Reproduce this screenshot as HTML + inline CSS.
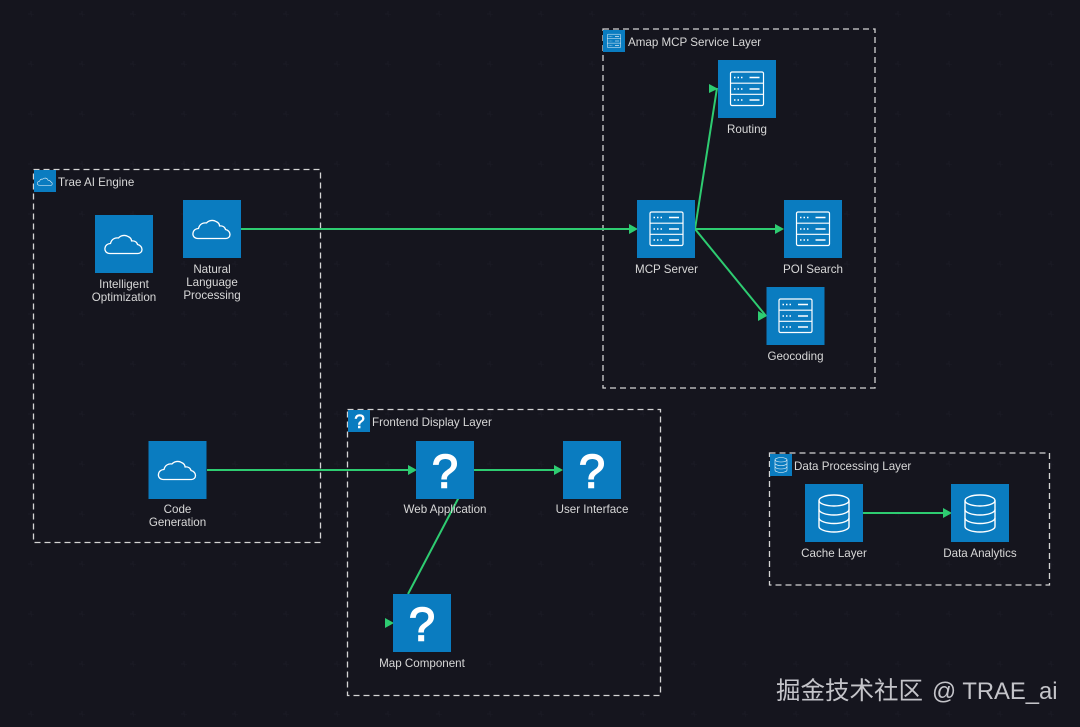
<!DOCTYPE html>
<html>
<head>
<meta charset="utf-8">
<style>
html,body{margin:0;padding:0;background:#15151e;width:1080px;height:727px;overflow:hidden}
svg{display:block}
text{font-family:"Liberation Sans",Arial,sans-serif;font-size:11.6px;fill:#d8d8d8}
.m{text-anchor:middle}
.q{font-size:47px;fill:#fff;stroke:#fff;stroke-width:1.5;text-anchor:middle}
.qs{font-size:19px;fill:#fff;stroke:#fff;stroke-width:.6;text-anchor:middle}
.g{fill:none;stroke:#d4d4d4;stroke-width:1.3;stroke-dasharray:6 4}
.n{fill:#0a7cc0}
.l{stroke:#2ecc71;stroke-width:2;fill:none}
.a{fill:#2ecc71}
text.w{font-family:"Liberation Sans","Noto Sans CJK SC",sans-serif;font-size:24.5px;fill:#c4c4c9}
text.w2{font-family:"Liberation Sans",sans-serif;font-size:23.8px;fill:#c4c4c9}
.small *{vector-effect:non-scaling-stroke;stroke-width:.9}
</style>
</head>
<body>
<svg width="1080" height="727" viewBox="0 0 1080 727" xmlns="http://www.w3.org/2000/svg">
<defs>
<pattern id="grid" x="31" y="14" width="51" height="50" patternUnits="userSpaceOnUse">
<path d="M-3 0H3M0 -3V3M48 0H54M0 47V53M51 47V53M48 50H54" stroke="#1b1b25" stroke-width="1" fill="none"/>
</pattern>
<g id="cloud" fill="none" stroke="#fff" stroke-width="1.3" stroke-linejoin="round">
<path d="M-14 9.500C-18 9.500 -19.500 6.500 -19 4C-18.500 1 -16 -0.500 -13.500 -0.500C-12.500 -5 -9 -6.500 -5.500 -6C-3.500 -8.500 1 -9.500 4 -7.500C6.500 -6.500 7.500 -4.500 7.500 -3C10.500 -3.500 13 -2 13.500 0.500C16.500 1 18 3.500 18 5.500C18 8 16 9.500 14 9.500Z"/>
</g>
<g id="server" fill="none" stroke="#fff" stroke-width="1.200">
<rect x="-16.500" y="-17" width="33" height="33.500" rx="1.500"/>
<path d="M-16.500 -5.800H16.500M-16.500 5.300H16.500"/>
<path d="M2.500 -11.500H12.500M2.500 0H12.500M2.500 11H12.500" stroke-width="1.500"/>
<path d="M-13 -11.500H-4.500M-13 0H-4.500M-13 11H-4.500" stroke-width="1.500" stroke-dasharray="1.500 2"/>
</g>
<g id="db" fill="none" stroke="#fff" stroke-width="1.400">
<ellipse cx="0" cy="-13" rx="15" ry="5.500"/>
<path d="M-15 -13V13C-15 16 -8 18.500 0 18.500C8 18.500 15 16 15 13V-13"/>
<path d="M-15 -4C-15 -1 -8 1.500 0 1.500C8 1.500 15 -1 15 -4"/>
<path d="M-15 4.500C-15 7.500 -8 10 0 10C8 10 15 7.500 15 4.500"/>
</g>
</defs>

<rect width="1080" height="727" fill="#15151e"/>
<rect width="1080" height="727" fill="url(#grid)"/>

<!-- groups -->
<rect class="g" x="33.500" y="169.500" width="287" height="373"/>
<rect class="g" x="603" y="29" width="272" height="359"/>
<rect class="g" x="347.500" y="409.500" width="313" height="286"/>
<rect class="g" x="769.500" y="453" width="280" height="132"/>

<!-- connectors -->
<path class="l" d="M241 229H632"/>
<polygon class="a" points="629,224 638,229 629,234"/>
<path class="l" d="M207 470H410"/>
<polygon class="a" points="408,465 417,470 408,475"/>
<path class="l" d="M474 470H557"/>
<polygon class="a" points="554,465 563,470 554,475"/>
<path class="l" d="M863 513H946"/>
<polygon class="a" points="943,508 952,513 943,518"/>
<path class="l" d="M695 229H778"/>
<polygon class="a" points="775,224 784,229 775,234"/>
<path class="l" d="M695 229L717 88"/>
<polygon class="a" points="709,84 718,88.700 709,93"/>
<path class="l" d="M695 229L766 316"/>
<polygon class="a" points="758,311 767,316 758,321"/>
<path class="l" d="M459 497L408 594"/>
<polygon class="a" points="385,618 394,623 385,628"/>

<!-- group icons -->
<rect class="n" x="34" y="170" width="22" height="22"/>
<use class="small" href="#cloud" transform="translate(45,181.500) scale(0.400)"/>
<text x="58" y="186">Trae AI Engine</text>

<rect class="n" x="603" y="30" width="22" height="22"/>
<use class="small" href="#server" transform="translate(614,41) scale(0.400)"/>
<text x="628" y="46">Amap MCP Service Layer</text>

<rect class="n" x="348" y="410" width="22" height="22"/>
<text class="qs" x="359.500" y="428">?</text>
<text x="372" y="426">Frontend Display Layer</text>

<rect class="n" x="770" y="454" width="22" height="22"/>
<use class="small" href="#db" transform="translate(781,465) scale(0.400)"/>
<text x="794" y="470">Data Processing Layer</text>

<!-- AI nodes -->
<rect class="n" x="95" y="215" width="58" height="58"/>
<use href="#cloud" transform="translate(124,244)"/>
<text class="m" x="124" y="288">Intelligent</text>
<text class="m" x="124" y="301">Optimization</text>

<rect class="n" x="183" y="200" width="58" height="58"/>
<use href="#cloud" transform="translate(212,229)"/>
<text class="m" x="212" y="273">Natural</text>
<text class="m" x="212" y="286">Language</text>
<text class="m" x="212" y="299">Processing</text>

<rect class="n" x="148.500" y="441" width="58" height="58"/>
<use href="#cloud" transform="translate(177.500,470)"/>
<text class="m" x="177.500" y="513">Code</text>
<text class="m" x="177.500" y="526">Generation</text>

<!-- MCP nodes -->
<rect class="n" x="637" y="200" width="58" height="58"/>
<use href="#server" transform="translate(666.500,229)"/>
<text class="m" x="666.500" y="273">MCP Server</text>

<rect class="n" x="718" y="60" width="58" height="58"/>
<use href="#server" transform="translate(747,89)"/>
<text class="m" x="747" y="133">Routing</text>

<rect class="n" x="784" y="200" width="58" height="58"/>
<use href="#server" transform="translate(813,229)"/>
<text class="m" x="813" y="273">POI Search</text>

<rect class="n" x="766.500" y="287" width="58" height="58"/>
<use href="#server" transform="translate(795.500,316)"/>
<text class="m" x="795.500" y="360">Geocoding</text>

<!-- Frontend nodes -->
<rect class="n" x="416" y="441" width="58" height="58"/>
<text class="q" x="445" y="487.500">?</text>
<text class="m" x="445" y="513">Web Application</text>

<rect class="n" x="563" y="441" width="58" height="58"/>
<text class="q" x="592" y="487.500">?</text>
<text class="m" x="592" y="513">User Interface</text>

<rect class="n" x="393" y="594" width="58" height="58"/>
<text class="q" x="422" y="640.500">?</text>
<text class="m" x="422" y="667">Map Component</text>

<!-- Data nodes -->
<rect class="n" x="805" y="484" width="58" height="58"/>
<use href="#db" transform="translate(834,513.500)"/>
<text class="m" x="834" y="557">Cache Layer</text>

<rect class="n" x="951" y="484" width="58" height="58"/>
<use href="#db" transform="translate(980,513.500)"/>
<text class="m" x="980" y="557">Data Analytics</text>

<text class="w" x="776" y="699">掘金技术社区</text>
<text class="w2" x="932" y="699">@ TRAE_ai</text>
</svg>
</body>
</html>
